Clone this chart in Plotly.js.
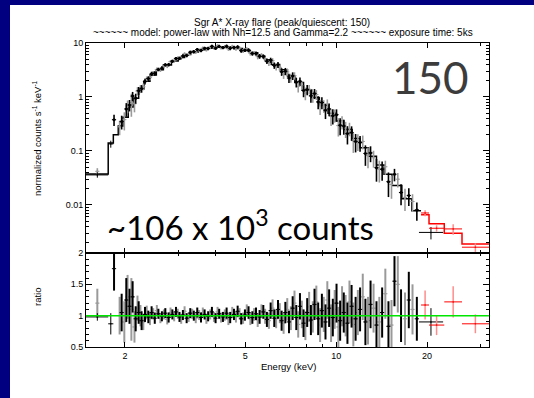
<!DOCTYPE html>
<html><head><meta charset="utf-8">
<script src="https://cdn.plot.ly/plotly-3.0.1.min.js"></script>
<style>
html,body{margin:0;padding:0;background:#000080;width:534px;height:398px;overflow:hidden}
#chart{position:absolute;left:10px;top:5px;width:524px;height:393px;background:#fff}
</style></head>
<body><div id="chart"></div>
<script>
// ---- model (step histogram) ----
const modelEdges = [1.486, 1.76, 1.83, 1.90, 1.97, 2.05, 2.13, 2.22, 2.31, 2.42, 2.54, 2.68, 2.85, 3.0, 3.15, 3.3, 3.5, 3.7, 3.9, 4.1, 4.35, 4.6, 4.9, 5.2, 5.5, 5.8, 6.1, 6.5, 6.9, 7.3, 7.8, 8.3, 8.8, 9.4, 10.0, 10.6, 11.3, 12.0, 12.8, 13.6, 14.4, 15.3, 16.5, 17.8, 19.1];
const modelVals = [0.0375, 0.14, 0.20, 0.29, 0.42, 0.65, 0.95, 1.4, 1.95, 2.55, 3.2, 3.9, 4.65, 5.4, 6.1, 6.8, 7.5, 8.0, 8.3, 8.4, 8.25, 7.9, 7.3, 6.6, 5.75, 4.9, 4.0, 3.2, 2.45, 1.85, 1.35, 0.98, 0.70, 0.50, 0.36, 0.25, 0.17, 0.115, 0.08, 0.055, 0.037, 0.023, 0.013, 0.0078];
const modelRedEdges = [19.1, 20.3, 22.8, 26.1, 32.1];
const modelRedVals = [0.0066, 0.0045, 0.0030, 0.0019];

// ---- black data set ----
const energyBlack = [1.84, 1.95, 2.02, 2.07, 2.12, 2.17, 2.22, 2.27, 2.33, 2.39,
 2.45, 2.51, 2.58, 2.65, 2.72, 2.79, 2.87, 2.95, 3.03, 3.11,
 3.2, 3.29, 3.38, 3.47, 3.57, 3.67, 3.77, 3.88, 3.99, 4.1,
 4.22, 4.34, 4.46, 4.59, 4.72, 4.85, 4.99, 5.13, 5.28, 5.43,
 5.58, 5.74, 5.9, 6.07, 6.24, 6.42, 6.6, 6.79, 6.98, 7.18,
 7.38, 7.59, 7.8, 8.02, 8.25, 8.48, 8.72, 8.97, 9.22, 9.48,
 9.75, 10.03, 10.31, 10.6, 10.9, 11.25, 11.6, 12.0, 12.5, 13.0,
 13.6, 14.2, 14.9, 15.6, 16.4, 17.4, 18.5];
const countsBlack = [0.38, 0.35, 0.60, 0.71, 1.04, 0.95, 1.31, 1.43, 1.94, 2.2,
 2.68, 2.74, 3.24, 3.42, 3.95, 3.98, 4.59, 5.19, 5.19, 5.76,
 5.86, 6.76, 6.9, 7.56, 7.28, 7.96, 7.92, 8.69, 8.02, 8.65,
 8.23, 8.68, 8.0, 8.26, 8.45, 7.22, 7.37, 7.35, 6.4, 6.39,
 5.68, 5.62, 4.61, 4.81, 3.84, 3.96, 2.94, 2.99, 2.25, 2.46,
 1.89, 1.96, 1.32, 1.37, 1.05, 1.16, 0.81, 0.79, 0.57, 0.60,
 0.45, 0.47, 0.30, 0.29, 0.21, 0.22, 0.15, 0.143, 0.09, 0.092,
 0.049, 0.046, 0.027, 0.037, 0.017, 0.015, 0.0081];
const countErrBlack = [0.09, 0.1, 0.17, 0.17, 0.2, 0.2, 0.22, 0.23, 0.23, 0.22,
 0.26, 0.26, 0.25, 0.28, 0.27, 0.29, 0.32, 0.34, 0.37, 0.4,
 0.43, 0.46, 0.48, 0.5, 0.52, 0.55, 0.56, 0.57, 0.58, 0.59,
 0.59, 0.67, 0.66, 0.65, 0.63, 0.61, 0.58, 0.63, 0.59, 0.56,
 0.58, 0.53, 0.54, 0.53, 0.52, 0.5, 0.48, 0.46, 0.43, 0.4,
 0.39, 0.34, 0.33, 0.29, 0.27, 0.245, 0.22, 0.2, 0.18, 0.16,
 0.14, 0.12, 0.105, 0.09, 0.078, 0.066, 0.056, 0.046, 0.037, 0.03,
 0.022, 0.018, 0.013, 0.0096, 0.0071, 0.0054, 0.003];
const ratioBlack = [1.75, 1.05, 1.25, 1.15, 1.30, 0.95, 1.05, 0.92, 1.02, 0.98,
 1.05, 0.96, 1.03, 0.99, 1.04, 0.97, 1.02, 1.06, 0.98, 1.01,
 0.96, 1.04, 1.0, 1.05, 0.97, 1.02, 0.99, 1.06, 0.96, 1.03,
 0.98, 1.04, 0.97, 1.02, 1.07, 0.95, 1.01, 1.05, 0.97, 1.03,
 0.98, 1.06, 0.94, 1.08, 0.96, 1.1, 0.92, 1.05, 0.9, 1.12,
 0.97, 1.15, 0.88, 1.05, 0.93, 1.18, 0.95, 1.08, 0.9, 1.12,
 0.97, 1.2, 0.92, 1.05, 0.88, 1.15, 0.95, 1.1, 0.9, 1.18,
 0.85, 1.05, 0.83, 1.55, 1.0, 1.25, 0.95];
const ratioErrBlack = [0.35, 0.3, 0.35, 0.28, 0.25, 0.2, 0.18, 0.15, 0.12, 0.1,
 0.1, 0.09, 0.08, 0.08, 0.08, 0.08, 0.08, 0.08, 0.08, 0.08,
 0.08, 0.08, 0.08, 0.08, 0.08, 0.08, 0.08, 0.08, 0.08, 0.08,
 0.08, 0.09, 0.09, 0.09, 0.09, 0.09, 0.09, 0.1, 0.1, 0.1,
 0.11, 0.11, 0.12, 0.13, 0.14, 0.15, 0.16, 0.17, 0.18, 0.19,
 0.2, 0.21, 0.22, 0.23, 0.24, 0.25, 0.26, 0.27, 0.28, 0.3,
 0.3, 0.31, 0.32, 0.32, 0.33, 0.34, 0.35, 0.35, 0.37, 0.38,
 0.38, 0.4, 0.4, 0.4, 0.42, 0.45, 0.35];

// ---- grey data set ----
const energyGray = [1.62, 1.92, 1.99, 2.04, 2.10, 2.15, 2.2, 2.25, 2.3, 2.36,
 2.42, 2.48, 2.55, 2.62, 2.69, 2.76, 2.83, 2.91, 2.99, 3.07,
 3.15, 3.25, 3.34, 3.43, 3.52, 3.62, 3.72, 3.83, 3.94, 4.05,
 4.16, 4.28, 4.4, 4.53, 4.66, 4.79, 4.92, 5.06, 5.2, 5.35,
 5.5, 5.66, 5.82, 5.99, 6.16, 6.33, 6.51, 6.7, 6.89, 7.08,
 7.28, 7.49, 7.7, 7.91, 8.14, 8.37, 8.6, 8.85, 9.1, 9.35,
 9.62, 9.89, 10.17, 10.46, 10.75, 11.07, 11.4, 11.8, 12.25, 12.75,
 13.3, 13.9, 14.55, 15.25, 16.0, 16.9, 17.9];
const countsGray = [0.042, 0.28, 0.38, 0.68, 0.79, 0.75, 1.29, 1.42, 1.55, 2.17,
 2.28, 2.78, 3.24, 3.17, 3.67, 3.71, 4.52, 4.65, 5.25, 5.23,
 6.31, 6.17, 6.9, 6.77, 7.42, 8.03, 7.5, 8.26, 8.13, 8.9,
 8.15, 8.48, 7.8, 8.61, 7.84, 7.98, 7.15, 7.72, 6.46, 6.53,
 5.58, 5.94, 5.05, 4.32, 4.7, 3.61, 3.54, 2.64, 2.92, 2.26,
 2.48, 1.57, 1.63, 1.18, 1.39, 1.03, 1.11, 0.67, 0.69, 0.73,
 0.44, 0.46, 0.295, 0.345, 0.26, 0.26, 0.155, 0.152, 0.15, 0.082,
 0.075, 0.046, 0.051, 0.024, 0.030, 0.0138, 0.0116];
const countErrGray = [0.006, 0.084, 0.14, 0.18, 0.36, 0.23, 0.23, 0.24, 0.22, 0.23,
 0.24, 0.24, 0.27, 0.26, 0.29, 0.28, 0.30, 0.33, 0.36, 0.39,
 0.41, 0.44, 0.47, 0.49, 0.51, 0.54, 0.55, 0.57, 0.58, 0.59,
 0.59, 0.67, 0.66, 0.66, 0.64, 0.62, 0.6, 0.64, 0.61, 0.58,
 0.6, 0.56, 0.56, 0.56, 0.55, 0.53, 0.51, 0.48, 0.45, 0.42,
 0.39, 0.36, 0.34, 0.31, 0.28, 0.25, 0.23, 0.205, 0.18, 0.17,
 0.15, 0.126, 0.11, 0.096, 0.086, 0.073, 0.063, 0.052, 0.043, 0.034,
 0.026, 0.020, 0.015, 0.011, 0.009, 0.0061, 0.0042];
const ratioGray = [1.2, 1.0, 0.9, 1.3, 1.1, 0.82, 1.12, 1.0, 0.9, 1.05,
 0.95, 1.03, 1.08, 0.96, 1.02, 0.94, 1.05, 0.99, 1.03, 0.95,
 1.07, 0.98, 1.03, 0.96, 1.01, 1.05, 0.95, 1.02, 0.98, 1.06,
 0.97, 1.01, 0.94, 1.05, 0.98, 1.03, 0.96, 1.08, 0.95, 1.02,
 0.93, 1.07, 0.99, 0.92, 1.12, 0.95, 1.04, 0.88, 1.1, 0.96,
 1.2, 0.86, 1.02, 0.84, 1.14, 0.98, 1.22, 0.85, 1.02, 1.25,
 0.88, 1.1, 0.82, 1.15, 1.0, 1.22, 0.86, 1.05, 1.3, 0.92,
 1.12, 0.9, 1.35, 0.85, 1.5, 0.95, 1.1];
const ratioErrGray = [0.23, 0.3, 0.33, 0.35, 0.5, 0.25, 0.2, 0.17, 0.13, 0.11,
 0.1, 0.09, 0.09, 0.08, 0.08, 0.08, 0.08, 0.08, 0.08, 0.08,
 0.08, 0.08, 0.08, 0.08, 0.08, 0.08, 0.08, 0.08, 0.08, 0.08,
 0.08, 0.09, 0.09, 0.09, 0.09, 0.09, 0.09, 0.1, 0.1, 0.1,
 0.11, 0.11, 0.12, 0.13, 0.14, 0.15, 0.16, 0.17, 0.18, 0.19,
 0.2, 0.21, 0.22, 0.23, 0.24, 0.25, 0.26, 0.27, 0.28, 0.3,
 0.3, 0.31, 0.32, 0.32, 0.33, 0.34, 0.35, 0.36, 0.37, 0.38,
 0.39, 0.4, 0.4, 0.4, 0.45, 0.42, 0.4];

// ---- wide black bins ----
const sparseE = [1.62, 1.795, 20.6];
const sparseXMinus = [0.134, 0.035, 1.8];
const sparseXPlus = [0.14, 0.035, 2.0];
const sparseCounts = [0.036, 0.135, 0.0031];
const sparseCountErr = [0.004, 0.02, 0.0008];
const sparseRatio = [0.98, 0.87, 0.9];
const sparseRatioErr = [0.06, 0.17, 0.22];

// ---- red (high energy) bins ----
const redE = [19.7, 21.5, 24.4, 28.9];
const redXMinus = [0.6, 1.2, 1.6, 2.8];
const redXPlus = [0.6, 1.3, 1.7, 3.2];
const redCounts = [0.0071, 0.0037, 0.0036, 0.00165];
const redCountErr = [0.0009, 0.0005, 0.0008, 0.0003];
const redRatio = [1.17, 0.85, 1.22, 0.87];
const redRatioErr = [0.23, 0.16, 0.25, 0.15];

const refRatio = 1;
const xTicks = [2, 5, 10, 20];
const xMinor = [3, 4, 6, 7, 8, 9, 30];
const yTicks = [0.01, 0.1, 1, 10];
const yTickText = ['0.01', '0.1', '1', '10'];
const rTicks = [0.5, 1, 1.5, 2];
const rTickText = ['0.5', '1', '1.5', '2'];

// ---- build ----
function stepY(vals){ return vals.concat([vals[vals.length-1]]); }
function errTrace(x, y, e, color, xa, ya, xerr, thick, msize){
  const t = {x:x, y:y, type:'scatter', mode:'markers', xaxis:xa, yaxis:ya,
    marker:{size:msize || 1.5, color:color},
    error_y:{type:'data', array:e, visible:true, color:color, thickness:thick || 1, width:0}};
  if (xerr) t.error_x = Object.assign({visible:true, color:color, thickness:1, width:0}, xerr);
  return t;
}
const traces = [
  {x:modelEdges, y:stepY(modelVals), type:'scatter', mode:'lines', line:{shape:'hv', color:'#000', width:1.5}, xaxis:'x', yaxis:'y'},
  {x:modelRedEdges, y:stepY(modelRedVals), type:'scatter', mode:'lines', line:{shape:'hv', color:'#ff0000', width:1.5}, xaxis:'x', yaxis:'y'},
  errTrace(energyGray, countsGray, countErrGray, '#9a9a9a', 'x', 'y', {type:'percent', value:1.6}, 1.6, 2),
  errTrace(energyBlack, countsBlack, countErrBlack, '#000', 'x', 'y', {type:'percent', value:1.6}, 1.6, 3),
  errTrace(sparseE, sparseCounts, sparseCountErr, '#000', 'x', 'y', {type:'data', array:sparseXPlus, arrayminus:sparseXMinus}),
  errTrace(redE, redCounts, redCountErr, '#ff8c8c', 'x', 'y', {type:'data', array:redXPlus, arrayminus:redXMinus}, 1.5),
  errTrace(energyGray, ratioGray, ratioErrGray, '#9a9a9a', 'x2', 'y2', {type:'percent', value:1.6}, 2, 2),
  errTrace(energyBlack, ratioBlack, ratioErrBlack, '#000', 'x2', 'y2', {type:'percent', value:1.6}, 2, 2),
  errTrace(sparseE, sparseRatio, sparseRatioErr, '#000', 'x2', 'y2', {type:'data', array:sparseXPlus, arrayminus:sparseXMinus}),
  errTrace(redE, redRatio, redRatioErr, '#ff8c8c', 'x2', 'y2', {type:'data', array:redXPlus, arrayminus:redXMinus}, 1.5)
];
traces[5].error_x.color = '#ff0000';
traces[9].error_x.color = '#ff0000';
traces[5].marker.color = '#ff0000';
traces[9].marker.color = '#ff0000';

const W = 524, H = 393, ML = 76, MR = 45, MT = 38, MB = 51;
const PW = W - ML - MR, PH = H - MT - MB;
function px(x){ return (x - ML) / PW; }
function py(y){ return (H - MB - y) / PH; }
const split = 94 / PH;

const yMinor = [];
[0.001, 0.01, 0.1, 1].forEach(d => { for (let k = 2; k <= 9; k++) yMinor.push(+(k*d).toPrecision(3)); });

const baseX = {type:'log', range:[0.172, 1.506], tickmode:'array', tickvals:xTicks,
  ticks:'inside', ticklen:5, tickcolor:'#000', showline:true, linecolor:'#000', linewidth:1,
  mirror:'allticks', showgrid:false, zeroline:false,
  minor:{tickmode:'array', tickvals:xMinor, ticks:'inside', ticklen:3, tickcolor:'#000', showgrid:false}};
const FONT = 'Liberation Sans, Arial, sans-serif';
const layout = {
  width:W, height:H, margin:{l:ML, r:MR, t:MT, b:MB},
  paper_bgcolor:'#fff', plot_bgcolor:'#fff', showlegend:false,
  font:{family:FONT, size:9, color:'#000'},
  xaxis:Object.assign({}, baseX, {anchor:'y', showticklabels:false}),
  xaxis2:Object.assign({}, baseX, {anchor:'y2', matches:'x', showticklabels:true, ticktext:['2','5','10','20'], tickfont:{size:9}}),
  yaxis:{type:'log', domain:[split, 1], range:[-2.89, 1.0], tickmode:'array', tickvals:yTicks, ticktext:yTickText,
    ticks:'inside', ticklen:6, tickcolor:'#000', showline:true, linecolor:'#000', mirror:'allticks',
    showgrid:false, zeroline:false, tickfont:{size:9},
    minor:{tickmode:'array', tickvals:yMinor, ticks:'inside', ticklen:3, tickcolor:'#000', showgrid:false}},
  yaxis2:{domain:[0, split], range:[0.5, 2], tickmode:'array', tickvals:rTicks, ticktext:rTickText,
    ticks:'inside', ticklen:6, tickcolor:'#000', showline:true, linecolor:'#000', mirror:'allticks',
    showgrid:false, zeroline:false, tickfont:{size:9},
    minor:{dtick:0.1, ticks:'inside', ticklen:3, tickcolor:'#000', showgrid:false}},
  shapes:[{type:'line', xref:'paper', x0:0, x1:1, yref:'y2', y0:refRatio, y1:refRatio,
    line:{color:'#00e600', width:1.5}, layer:'above'}],
  annotations:[
    {text:'Sgr A* X-ray flare (peak/quiescent: 150)', x:px(272), y:py(17), xref:'paper', yref:'paper', showarrow:false, xanchor:'center', yanchor:'middle', font:{size:10}},
    {text:'~~~~~~ model: power-law with Nh=12.5 and Gamma=2.2 ~~~~~~ exposure time: 5ks', x:px(272.5), y:py(28), xref:'paper', yref:'paper', showarrow:false, xanchor:'center', yanchor:'middle', font:{size:10}},
    {text:'150', x:px(420), y:py(72), xref:'paper', yref:'paper', showarrow:false, xanchor:'center', yanchor:'middle', font:{family:'Lato, sans-serif', size:44, color:'#3c3c3c'}},
    {text:'~106 x 10<sup>3</sup> counts', x:px(230), y:py(220), xref:'paper', yref:'paper', showarrow:false, xanchor:'center', yanchor:'middle', font:{family:'Lato, sans-serif', size:33, color:'#000'}},
    {text:'Energy (keV)', x:px(278), y:py(361), xref:'paper', yref:'paper', showarrow:false, xanchor:'center', yanchor:'middle', font:{size:9.5}},
    {text:'normalized counts s<sup>-1</sup> keV<sup>-1</sup>', x:px(27), y:py(133), xref:'paper', yref:'paper', showarrow:false, textangle:-90, xanchor:'center', yanchor:'middle', font:{size:9.5}},
    {text:'ratio', x:px(27), y:py(292), xref:'paper', yref:'paper', showarrow:false, textangle:-90, xanchor:'center', yanchor:'middle', font:{size:9.5}}
  ]
};
Plotly.newPlot('chart', traces, layout, {displayModeBar:false, staticPlot:true});
</script></body></html>
